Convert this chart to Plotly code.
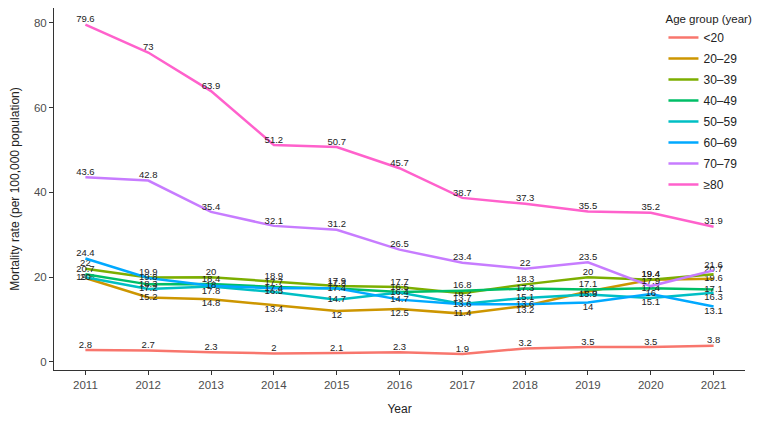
import plotly.graph_objects as go

years = [2011, 2012, 2013, 2014, 2015, 2016, 2017, 2018, 2019, 2020, 2021]

age_groups = ["<20", "20–29", "30–39", "40–49", "50–59", "60–69", "70–79", "≥80"]

rate_lt20 = [2.8, 2.7, 2.3, 2.0, 2.1, 2.3, 1.9, 3.2, 3.5, 3.5, 3.8]
rate_20_29 = [19.8, 15.2, 14.8, 13.4, 12.0, 12.5, 11.4, 13.2, 16.6, 19.4, 19.6]
rate_30_39 = [22.0, 19.9, 20.0, 18.9, 17.9, 17.7, 16.2, 18.3, 20.0, 19.4, 20.7]
rate_40_49 = [20.7, 18.3, 18.4, 17.7, 17.3, 16.5, 16.8, 17.3, 17.1, 17.4, 17.1]
rate_50_59 = [20.0, 17.2, 17.8, 16.5, 14.7, 16.4, 13.7, 15.1, 15.9, 15.1, 16.3]
rate_60_69 = [24.4, 19.8, 18.0, 17.4, 17.4, 14.7, 13.6, 13.6, 14.0, 16.0, 13.1]
rate_70_79 = [43.6, 42.8, 35.4, 32.1, 31.2, 26.5, 23.4, 22.0, 23.5, 17.9, 21.6]
rate_ge80 = [79.6, 73.0, 63.9, 51.2, 50.7, 45.7, 38.7, 37.3, 35.5, 35.2, 31.9]

series = [rate_lt20, rate_20_29, rate_30_39, rate_40_49,
          rate_50_59, rate_60_69, rate_70_79, rate_ge80]

colors = ["#F8766D", "#CD9600", "#7CAE00", "#00BE67",
          "#00BFC4", "#00A9FF", "#C77CFF", "#FF61CC"]

# label placement (style only): t = above, m = on point, b = below
code = {"t": "top center", "m": "middle center", "b": "bottom center"}
label_pos = [
    "ttttttttttt",
    "mmbbbbmbmtm",
    "ttttttmtttt",
    "tmtttttmtmm",
    "mmbmmmtmmbb",
    "tmmmmmmmbmb",
    "ttttttttttt",
    "ttttttttttt",
]

fig = go.Figure()
for name, vals, col, pos in zip(age_groups, series, colors, label_pos):
    fig.add_trace(go.Scatter(
        x=years, y=vals, name=name, mode="lines+text",
        legendgroup=name,
        line=dict(color=col, width=2.5),
        text=[f"{v:g}" for v in vals],
        textposition=[code[c] for c in pos],
        textfont=dict(family="Liberation Sans, Arial, sans-serif", size=9.5, color="#222222"),
        cliponaxis=False,
    ))

base = "Liberation Sans, Arial, sans-serif"
tickfont = dict(family=base, size=11.5, color="#4D4D4D")
titlefont = dict(family=base, size=12, color="#222222")

# the page body adds an 8px offset, so the figure is 8px smaller on each axis
fig.update_layout(
    width=757, height=415,
    margin=dict(l=46, r=20, t=0, b=53),
    paper_bgcolor="white", plot_bgcolor="white",
    showlegend=True,
    legend=dict(
        title=dict(text="Age group (year)", font=dict(family=base, size=11.5, color="#222222")),
        font=titlefont,
        x=0.882, y=1.0, xanchor="left", yanchor="top",
        bgcolor="rgba(0,0,0,0)",
        itemwidth=30,
        tracegroupgap=2,
    ),
    xaxis=dict(
        range=[2010.5, 2021.5], tickmode="array", tickvals=years,
        ticktext=[str(y) for y in years],
        showgrid=False, zeroline=False,
        showline=True, linecolor="#333333", linewidth=1,
        ticks="outside", ticklen=4, tickcolor="#333333",
        tickfont=tickfont,
        title=dict(text="Year", font=titlefont, standoff=14),
        automargin=False,
    ),
    yaxis=dict(
        range=[-1.9, 83.5], tickvals=[0, 20, 40, 60, 80],
        showgrid=False, zeroline=False,
        showline=True, linecolor="#333333", linewidth=1,
        ticks="outside", ticklen=4, tickcolor="#333333",
        tickfont=tickfont,
        title=dict(text="Mortality rate (per 100,000 population)", font=titlefont, standoff=13),
        automargin=False,
    ),
)

fig.write_html("out.html")
